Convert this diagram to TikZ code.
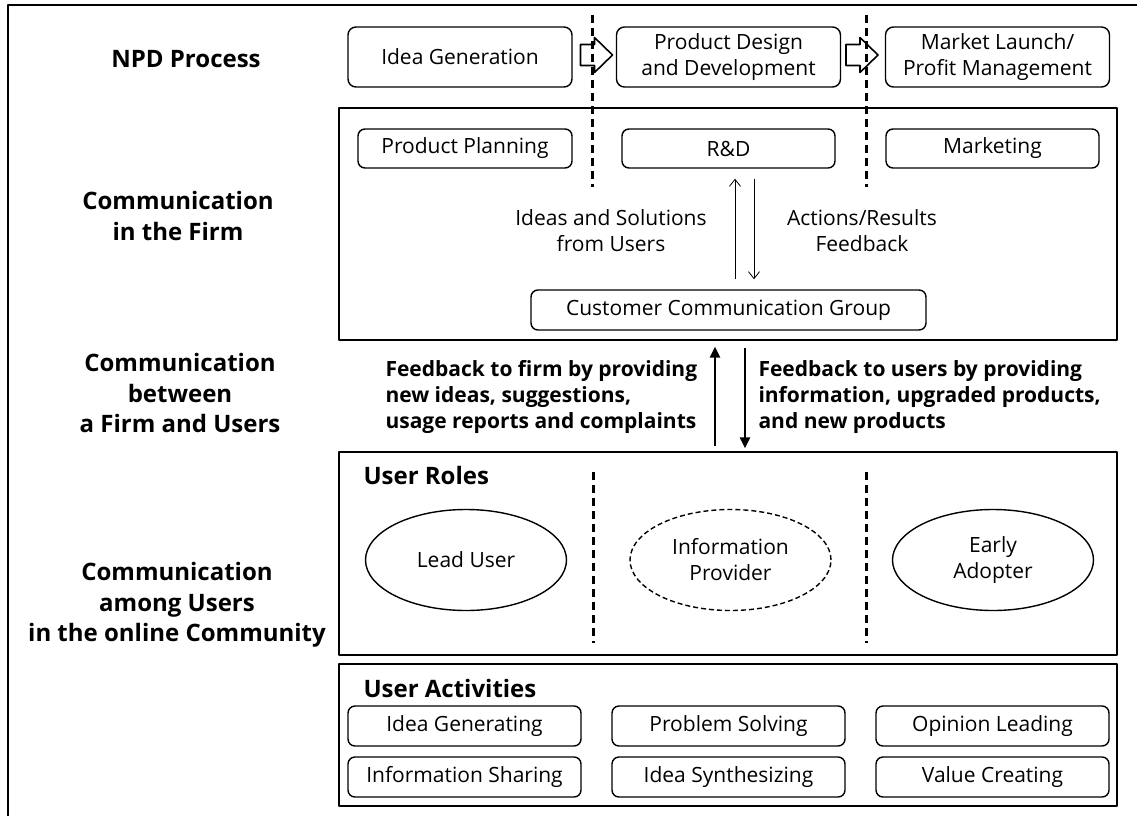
\documentclass[tikz,border=0pt]{standalone}
\usepackage{fontspec}
\setmainfont{Open Sans}
\usetikzlibrary{shapes.geometric,arrows.meta}

\begin{document}
\begin{tikzpicture}[x=1pt,y=-1pt,line join=round,
		txt/.style={font=\fontsize{21}{26}\selectfont,align=center},
		head/.style={font=\fontsize{24}{30.5}\selectfont\bfseries,align=center},
		stage/.style={txt,draw,line width=1.4pt,rounded corners=8pt,minimum width=224pt,minimum height=60pt,inner sep=0pt},
		unit/.style={txt,draw,line width=1.4pt,rounded corners=7pt,minimum height=39pt,inner sep=0pt},
		role/.style={txt,draw,ellipse,line width=1.4pt,minimum width=201pt,minimum height=101pt,inner sep=0pt},
		layer/.style={draw,line width=1.4pt,minimum width=778pt,inner sep=0pt},
		divider/.style={line width=3pt,dash pattern=on 8pt off 5pt},
		nextstep/.style={draw,line width=1.6pt,fill=white}]
		\useasboundingbox (0,0) rectangle (1137,816);
		\draw[line width=1.8pt] (1137,5) -- (8,5) -- (8,816);
		% row labels
		\node[head] (lnpd) at (186,59) {NPD Process};
		\node[head] (lfirm) at (178,216) {Communication\\in the Firm};
		\node[head] (lbetween) at (180,393) {Communication\\between\\a Firm and Users};
		\node[head] (lamong) at (177,605) {Communication\\among Users\\in the online Community};
		% NPD stages
		\node[stage] (idea) at (460,57) {Idea Generation};
		\node[stage] (design) at (728.5,57) {Product Design\\and Development};
		\node[stage] (launch) at (997.5,57) {Market Launch/\\Profit Management};
		\foreach \x in {580.5,846}
			\draw[nextstep] (\x,44.5) -- ++(14,0) -- ++(0,-7) -- ++(18,17.5) -- ++(-18,17.5) -- ++(0,-7) -- ++(-14,0) -- cycle;
		% firm
		\node[layer,minimum height=232pt] (firm) at (728,224) {};
		\node[unit,minimum width=214pt] (plan) at (465,148.5) {Product Planning};
		\node[unit,minimum width=213pt] (rnd) at (728.5,148.5) {R\&D};
		\node[unit,minimum width=213pt] (mkt) at (992.5,148.5) {Marketing};
		\node[unit,minimum width=395pt,minimum height=40pt] (ccg) at (728.5,310) {Customer Communication Group};
		\draw[divider] (592,15) -- (592,187);
		\draw[divider] (866,15) -- (866,187);
		\draw[line width=0.8pt,-{Straight Barb[length=7pt,width=11pt]},shorten <=10pt,shorten >=10pt] ([xshift=6.5pt]ccg.north) -- ([xshift=6.5pt]rnd.south);
		\draw[line width=0.8pt,-{Straight Barb[length=7pt,width=11pt]},shorten <=10pt,shorten >=10pt] ([xshift=25.5pt]rnd.south) -- ([xshift=25.5pt]ccg.north);
		\node[txt] (ideas) at (611,231) {Ideas and Solutions\\from Users};
		\node[txt] (actions) at (862,231) {Actions/Results\\Feedback};
		% user roles
		\node[layer,minimum height=203pt] (roles) at (728,553.5) {};
		\node[head,anchor=west] (rtitle) at (360,475) {User Roles};
		\draw[divider] (593,472) -- (593,643);
		\draw[divider] (866,472) -- (866,643);
		\node[role] (lead) at (466,560) {Lead User};
		\node[role,dashed,dash pattern=on 5pt off 3pt] (info) at (730.5,560) {Information\\Provider};
		\node[role] (early) at (993,560) {Early\\Adopter};
		% between firm and users
		\draw[line width=2.6pt,-{Triangle[length=11pt,width=10pt]},shorten <=5pt,shorten >=6pt] ([xshift=-13pt]roles.north) -- ([xshift=-13pt]firm.south);
		\draw[line width=2.6pt,-{Triangle[length=11pt,width=10pt]},shorten <=7pt,shorten >=3pt] ([xshift=17pt]firm.south) -- ([xshift=17pt]roles.north);
		\node[txt,font=\fontsize{21}{26}\selectfont\bfseries,align=left,anchor=west] (tofirm) at (382,397) {Feedback to firm by providing\\new ideas, suggestions,\\usage reports and complaints};
		\node[txt,font=\fontsize{21}{26}\selectfont\bfseries,align=left,anchor=west] (tousers) at (755,397) {Feedback to users by providing\\information, upgraded products,\\and new products};
		% user activities
		\node[layer,minimum height=142pt] (acts) at (728,735) {};
		\node[head,anchor=west] (atitle) at (360,688) {User Activities};
		\foreach \name/\x/\y/\label in {gen/464.5/726/Idea Generating, solve/728.5/726/Problem Solving, opin/992.5/726/Opinion Leading,
			share/464.5/777/Information Sharing, synth/728.5/777/Idea Synthesizing, value/992.5/777/Value Creating}
			\node[unit,minimum width=233pt,minimum height=40pt] (\name) at (\x,\y) {\label};
\end{tikzpicture}
\end{document}
